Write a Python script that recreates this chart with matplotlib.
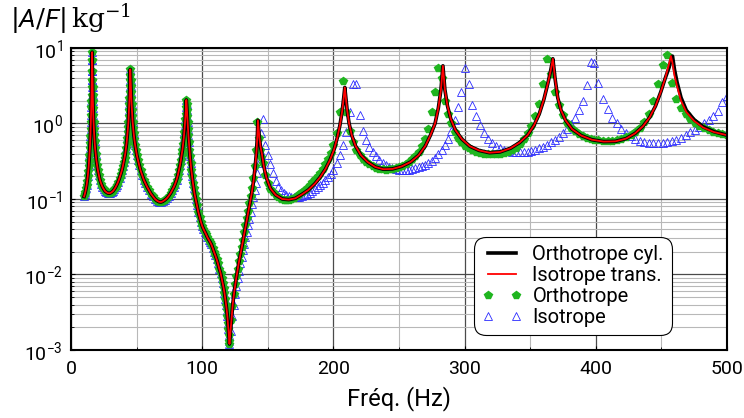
import numpy as np
import matplotlib
matplotlib.use('Agg')
import matplotlib.pyplot as plt
from matplotlib.ticker import MultipleLocator, LogLocator, NullFormatter

plt.rcParams['font.family'] = ['Roboto', 'DejaVu Sans']
plt.rcParams['mathtext.fontset'] = 'custom'
plt.rcParams['mathtext.rm'] = 'DejaVu Serif'
plt.rcParams['mathtext.it'] = 'Roboto:italic'
plt.rcParams['legend.numpoints'] = 2

# --- data (frequency in Hz, |A/F| in 1/kg) ---
# below ~121 Hz all four models coincide
freq_shared = [10, 10.5, 11, 11.5, 12, 12.4, 12.8, 13.2, 13.5, 13.8,
               14.1, 14.4, 14.6, 14.8, 15.0, 15.15, 15.3, 15.45, 15.55, 15.65,
               15.75, 15.85, 15.95, 16.05, 16.12, 16.2, 16.3, 16.4, 16.5, 16.6,
               16.72, 16.85, 17.0, 17.2, 17.45, 17.7, 18.0, 18.4, 18.8, 19.3,
               19.9, 20.5, 21.2, 22, 23, 24, 25, 26, 27, 28,
               29, 30, 31, 32, 33, 34, 35, 36, 37, 38,
               38.8, 39.5, 40.2, 40.8, 41.4, 41.9, 42.4, 42.8, 43.2, 43.5,
               43.8, 44.0, 44.2, 44.4, 44.6, 44.75, 44.9, 45.05, 45.2, 45.35,
               45.5, 45.65, 45.8, 46.0, 46.2, 46.45, 46.7, 47.0, 47.4, 47.8,
               48.3, 48.9, 49.5, 50.2, 51, 52, 53, 54.2, 55.5, 56.7,
               58, 59.5, 61, 62.5, 64, 65.5, 67, 68.5, 70, 71.5,
               73, 74.5, 76, 77.3, 78.5, 79.5, 80.5, 81.4, 82.3, 83.1,
               83.8, 84.4, 85, 85.5, 86, 86.4, 86.8, 87.1, 87.4, 87.65,
               87.9, 88.15, 88.4, 88.65, 88.9, 89.2, 89.5, 89.9, 90.3, 90.7,
               91.2, 91.7, 92.3, 92.9, 93.5, 94.2, 95, 96, 97, 98,
               99, 100, 101, 102, 103, 104, 105, 106, 107, 108,
               109, 110, 111, 112, 113, 114, 114.8, 115.6, 116.3, 117,
               117.6, 118.2, 118.7, 119.2, 119.6, 120, 120.3, 120.6, 120.8]
amp_shared = [0.108, 0.115, 0.125, 0.138, 0.155, 0.175, 0.2, 0.235, 0.27, 0.32,
              0.38, 0.47, 0.55, 0.68, 0.85, 1.05, 1.3, 1.65, 2.0, 2.4,
              3.0, 3.8, 5.0, 7.0, 8.8, 7.0, 5.0, 3.8, 3.0, 2.4,
              2.0, 1.6, 1.3, 1.05, 0.85, 0.7, 0.58, 0.47, 0.4, 0.33,
              0.28, 0.24, 0.21, 0.18, 0.16, 0.145, 0.135, 0.127, 0.123, 0.12,
              0.119, 0.12, 0.123, 0.127, 0.134, 0.143, 0.155, 0.17, 0.19, 0.215,
              0.24, 0.27, 0.31, 0.35, 0.4, 0.47, 0.55, 0.65, 0.77, 0.9,
              1.05, 1.25, 1.5, 1.8, 2.2, 2.6, 3.1, 3.8, 5.2, 4.4,
              3.8, 3.1, 2.6, 2.2, 1.8, 1.5, 1.25, 1.05, 0.88, 0.74,
              0.62, 0.52, 0.45, 0.38, 0.33, 0.28, 0.24, 0.21, 0.18, 0.162,
              0.145, 0.13, 0.117, 0.108, 0.1, 0.095, 0.092, 0.091, 0.093, 0.097,
              0.102, 0.11, 0.12, 0.132, 0.145, 0.16, 0.18, 0.205, 0.24, 0.28,
              0.33, 0.39, 0.45, 0.54, 0.65, 0.78, 0.95, 1.15, 1.35, 1.65,
              2.05, 1.8, 1.5, 1.25, 1.05, 0.85, 0.7, 0.56, 0.45, 0.37,
              0.3, 0.245, 0.2, 0.165, 0.14, 0.117, 0.1, 0.082, 0.068, 0.058,
              0.05, 0.044, 0.04, 0.037, 0.034, 0.031, 0.029, 0.027, 0.025, 0.0225,
              0.02, 0.018, 0.016, 0.014, 0.012, 0.0105, 0.009, 0.0078, 0.0067, 0.0057,
              0.0048, 0.004, 0.0034, 0.0028, 0.0023, 0.0019, 0.0016, 0.0013, 0.0012]

# orthotrope cyl. / isotrope trans. curves above 121 Hz
freq_cyl = [121.5, 122.3, 123.3, 124.5, 126, 128, 130, 132, 134, 136, 137.8, 139.3, 140.5,
            141.4, 142.0, 142.5, 143.0, 143.6, 144.4, 145.5, 147, 149, 152, 156, 161, 166,
            171, 176, 181, 186, 190, 194, 197.5, 200.5, 203, 205, 206.7, 207.9, 208.7, 209.5,
            210.5, 212, 214, 217, 221, 226, 232, 238, 245, 252, 259, 265, 270, 274, 277.5,
            280, 282, 283.5, 285, 287, 289.5, 293, 298, 304, 311, 319, 327, 335, 342, 348,
            353, 357, 360.5, 363.5, 365.8, 367.3, 369, 371, 373.5, 377, 382, 389, 397, 406,
            415, 423, 430, 436, 441, 445.5, 449.5, 453, 456, 457.3, 458.5, 460, 462, 465, 469,
            475, 482, 490, 500]
amp_cyl = [0.0017, 0.0026, 0.004, 0.006, 0.009, 0.0145, 0.022, 0.034, 0.052, 0.08, 0.12, 0.18,
           0.28, 0.42, 0.65, 1.1, 0.85, 0.65, 0.5, 0.4, 0.27, 0.19, 0.138, 0.113, 0.1, 0.098,
           0.102, 0.115, 0.132, 0.16, 0.195, 0.25, 0.33, 0.45, 0.65, 0.95, 1.45, 2.2, 3.0, 2.2,
           1.5, 1.0, 0.7, 0.5, 0.38, 0.31, 0.265, 0.248, 0.25, 0.27, 0.31, 0.38, 0.5, 0.7, 1.0,
           1.6, 2.8, 5.8, 2.8, 1.7, 1.15, 0.82, 0.62, 0.5, 0.44, 0.41, 0.42, 0.47, 0.56, 0.7,
           0.95, 1.35, 2.1, 3.4, 5.2, 7.2, 3.9, 2.2, 1.5, 1.1, 0.84, 0.69, 0.61, 0.575, 0.58,
           0.63, 0.74, 0.92, 1.2, 1.7, 2.6, 4.0, 5.6, 7.0, 7.8, 5.2, 3.5, 2.2, 1.5, 1.12, 0.9,
           0.78, 0.7]
amp_trans = [0.0017, 0.0026, 0.004, 0.006, 0.009, 0.0145, 0.022, 0.034, 0.052, 0.08, 0.12, 0.18,
             0.28, 0.42, 0.65, 1.1, 0.85, 0.65, 0.5, 0.4, 0.27, 0.19, 0.138, 0.113, 0.1, 0.098,
             0.102, 0.115, 0.132, 0.16, 0.195, 0.25, 0.33, 0.45, 0.65, 0.95, 1.45, 2.2, 3.0, 2.2,
             1.5, 1.0, 0.7, 0.5, 0.38, 0.31, 0.265, 0.248, 0.25, 0.27, 0.31, 0.38, 0.5, 0.7, 1.0,
             1.6, 2.8, 5.8, 2.8, 1.7, 1.15, 0.82, 0.62, 0.5, 0.44, 0.41, 0.42, 0.47, 0.56, 0.7,
             0.95, 1.35, 2.1, 3.4, 5.2, 7.2, 3.9, 2.2, 1.5, 1.1, 0.84, 0.69, 0.61, 0.575, 0.58,
             0.63, 0.74, 0.92, 1.2, 1.7, 2.6, 4.0, 6.3, 7.8, 6.3, 4.3, 3.1, 2.0, 1.42, 1.08, 0.88,
             0.77, 0.7]

# marker models above 121 Hz
freq_mk = [122, 123, 124, 125, 126, 127, 128, 129, 130, 131, 132, 133, 134, 135, 136, 137,
           138, 139, 140, 141, 142, 143, 144, 145, 146,
           148, 150, 152, 154, 156, 158, 160, 162, 164, 166, 168, 170, 172, 174, 176, 178,
           180, 182, 184, 186, 188, 190, 192, 194, 196, 198, 200,
           202.5, 205, 207.5, 210, 212.5, 215, 217.5, 220, 222.5, 225, 227.5, 230, 232.5, 235,
           237.5, 240, 242.5, 245, 247.5, 250, 252.5, 255, 257.5, 260, 262.5, 265, 267.5, 270,
           272.5, 275, 277.5, 280, 282.5, 285, 287.5, 290, 292.5, 295, 297.5, 300,
           303, 306, 309, 312, 315, 318, 321, 324, 327, 330, 333, 336, 339, 342, 345, 348, 351,
           354, 357, 360, 363, 366, 369, 372, 375, 378, 381, 384, 387, 390, 393, 396, 399,
           402, 405.5, 409, 412.5, 416, 419.5, 423, 426.5, 430, 433.5, 437, 440.5, 444, 447.5,
           451, 454.5, 458, 461.5, 465, 468.5, 472, 475.5, 479, 482.5, 486, 489.5, 493, 496.5,
           500]
amp_ortho = [0.0025, 0.0038, 0.0055, 0.0075, 0.0095, 0.012, 0.015, 0.0185, 0.023, 0.029,
             0.036, 0.045, 0.056, 0.07, 0.088, 0.11, 0.14, 0.19, 0.27, 0.45, 1.05, 0.65, 0.45,
             0.36, 0.3,
             0.21, 0.165, 0.137, 0.122, 0.112, 0.105, 0.1, 0.098, 0.097, 0.098, 0.1, 0.104,
             0.109, 0.115, 0.122, 0.13, 0.14, 0.152, 0.166, 0.183, 0.2, 0.22, 0.25, 0.29, 0.34,
             0.41, 0.52,
             0.75, 1.4, 3.7, 1.4, 0.8, 0.56, 0.45, 0.38, 0.34, 0.31, 0.29, 0.272, 0.26, 0.252,
             0.247, 0.245, 0.246, 0.25, 0.256, 0.265, 0.277, 0.292, 0.31, 0.335, 0.37, 0.42, 0.5,
             0.62, 0.85, 1.4, 2.6, 5.4, 4.0, 2.0, 1.35, 1.0, 0.78, 0.65, 0.57, 0.51,
             0.48, 0.45, 0.425, 0.41, 0.4, 0.392, 0.39, 0.39, 0.395, 0.405, 0.42, 0.445, 0.48,
             0.54, 0.62, 0.74, 0.92, 1.25, 1.8, 3.3, 7.2, 4.5, 2.6, 1.75, 1.3, 1.02, 0.88, 0.79,
             0.73, 0.68, 0.65, 0.62, 0.605,
             0.6, 0.585, 0.58, 0.585, 0.6, 0.625, 0.66, 0.71, 0.78, 0.88, 1.05, 1.35, 2.0, 3.3,
             6.0, 8.0, 3.4, 2.1, 1.6, 1.35, 1.15, 1.02, 0.93, 0.86, 0.81, 0.78, 0.75, 0.73, 0.71]
amp_iso = [0.0018, 0.0028, 0.004, 0.0055, 0.007, 0.009, 0.011, 0.014, 0.017, 0.021, 0.025,
           0.031, 0.037, 0.045, 0.055, 0.068, 0.085, 0.105, 0.13, 0.165, 0.22, 0.3, 0.45, 0.75,
           1.15,
           0.52, 0.38, 0.29, 0.22, 0.175, 0.145, 0.13, 0.12, 0.113, 0.109, 0.106, 0.105, 0.105,
           0.107, 0.109, 0.112, 0.116, 0.121, 0.127, 0.134, 0.142, 0.152, 0.164, 0.178, 0.195,
           0.215, 0.24,
           0.3, 0.38, 0.52, 0.78, 1.4, 3.3, 3.3, 1.3, 0.8, 0.6, 0.49, 0.42, 0.37, 0.33, 0.3,
           0.28, 0.265, 0.255, 0.248, 0.244, 0.242, 0.242, 0.244, 0.248, 0.254, 0.262, 0.272,
           0.285, 0.3, 0.32, 0.35, 0.39, 0.44, 0.52, 0.63, 0.8, 1.1, 1.65, 2.6, 5.4,
           3.3, 1.75, 1.25, 0.95, 0.74, 0.62, 0.55, 0.5, 0.47, 0.45, 0.435, 0.425, 0.42, 0.418,
           0.42, 0.425, 0.435, 0.45, 0.47, 0.49, 0.52, 0.56, 0.6, 0.66, 0.74, 0.84, 0.98, 1.2,
           1.5, 2.0, 3.2, 6.6, 6.3,
           3.4, 2.1, 1.55, 1.2, 1.0, 0.85, 0.75, 0.68, 0.62, 0.59, 0.565, 0.55, 0.545, 0.545,
           0.55, 0.56, 0.58, 0.61, 0.65, 0.7, 0.76, 0.82, 0.9, 1.0, 1.12, 1.25, 1.45, 1.9, 2.3]

f_line = freq_shared + freq_cyl
f_mk = freq_shared + freq_mk

fig = plt.figure(figsize=(7.44, 4.18), dpi=100)
ax = fig.add_axes([0.0954, 0.1627, 0.8817, 0.7225])

h_iso, = ax.plot(f_mk, amp_shared + amp_iso, ls='none', marker='^', ms=6, mfc='none',
                 mec='#2b2bff', mew=0.6, label='Isotrope')
h_ortho, = ax.plot(f_mk, amp_shared + amp_ortho, ls='none', marker='p', ms=5.5,
                   color='#1fb51f', label='Orthotrope')
h_cyl, = ax.plot(f_line, amp_shared + amp_cyl, color='black', lw=2.6, label='Orthotrope cyl.')
h_trans, = ax.plot(f_line, amp_shared + amp_trans, color='red', lw=1.3, label='Isotrope trans.')

ax.set_yscale('log')
ax.set_xlim(0, 500)
ax.set_ylim(1e-3, 1e1)
ax.xaxis.set_major_locator(MultipleLocator(100))
ax.xaxis.set_minor_locator(MultipleLocator(50))
ax.yaxis.set_major_locator(LogLocator(base=10, numticks=10))
ax.yaxis.set_minor_locator(LogLocator(base=10, subs=np.arange(2, 10), numticks=10))
ax.yaxis.set_minor_formatter(NullFormatter())
ax.set_axisbelow(True)
ax.grid(which='major', color='#4a4a4a', lw=0.9)
ax.grid(which='minor', color='#b8b8b8', lw=0.8)
ax.tick_params(which='both', direction='in', labelsize=14)
ax.tick_params(which='major', length=3)
ax.tick_params(which='minor', length=2)
ax.tick_params(axis='x', pad=7)
ax.tick_params(axis='y', pad=6)
for s in ax.spines.values():
    s.set_linewidth(1.5)

ax.set_xlabel('Fréq. (Hz)', fontsize=17, labelpad=6)
fig.text(0.014, 0.995, r'$|A/F|\,\mathrm{kg}^{-1}$', va='top', ha='left', fontsize=19)

leg = ax.legend(handles=[h_cyl, h_trans, h_ortho, h_iso], loc='lower right',
                bbox_to_anchor=(0.916, 0.05), fontsize=14.5, fancybox=True, framealpha=1,
                edgecolor='black', handlelength=2.0, labelspacing=0.1, borderpad=0.4,
                handletextpad=0.5, borderaxespad=0)
leg.get_frame().set_linewidth(0.8)
leg.get_frame().set_boxstyle('round', pad=0, rounding_size=0.6)

fig.savefig('out.png', dpi=100)
